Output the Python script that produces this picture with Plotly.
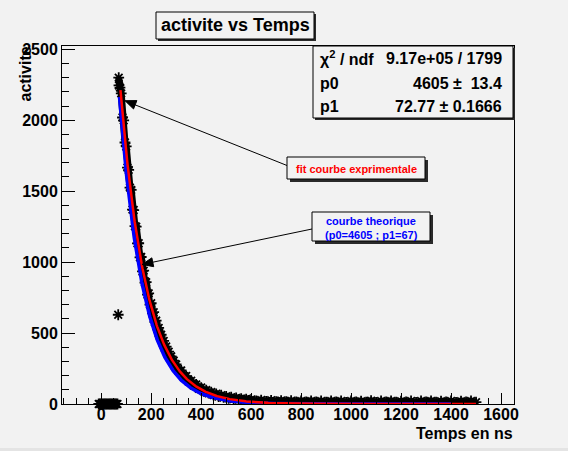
import numpy as np
import plotly.graph_objects as go

# ---------------------------------------------------------------- data
# measured activity before the source is switched on (flat at zero)
zero_x = [-10, -5, 0, 5, 10, 15, 20, 25, 30, 35, 40, 45, 50, 55, 60, 65]
zero_y = [0, 0, 0, 0, 0, 0, 0, 0, 0, 0, 0, 0, 0, 0, 0, 0]

# isolated point on the rising edge
edge_x = [68]
edge_y = [629]

# measured decay
decay_x = [70, 71, 75, 80, 85, 90, 95, 100, 105, 110, 115, 120, 125, 130, 135,
           140, 145, 150, 155, 160, 165, 170, 175, 180, 185, 190, 195, 200,
           205, 210, 215, 220, 225, 230, 235, 240, 245, 250, 255, 260, 265,
           270, 275, 280, 285, 290, 295, 300,
           310, 320, 330, 340, 350, 360, 370, 380, 390, 400, 410, 420, 430,
           440, 450, 460, 470, 480, 490, 500, 510, 520, 530, 540, 550, 560,
           570, 580, 590, 600,
           620, 640, 660, 680, 700, 720, 740, 760, 780, 800, 820, 840, 860,
           880, 900, 920, 940, 960, 980, 1000, 1020, 1040, 1060, 1080, 1100,
           1120, 1140, 1160, 1180, 1200, 1220, 1240, 1260, 1280, 1300, 1320,
           1340, 1360, 1380, 1400, 1420, 1440, 1460, 1480, 1500]
decay_y = [2300, 2245, 2230, 2189, 2019, 1999, 1843, 1815, 1666, 1650, 1525,
           1509, 1370, 1367, 1253, 1250, 1132, 1133, 1034, 1036, 934, 940,
           855, 859, 771, 780, 701, 710, 638, 647, 578, 588, 526, 536, 479,
           488, 433, 445, 395, 405, 357, 369, 325, 336, 295, 306, 268, 279,
           232, 236, 191, 197, 158, 164, 131, 138, 108, 116, 90, 98, 76, 84,
           63, 72, 53, 62, 46, 54, 40, 48, 35, 43, 31, 38, 28, 35, 25, 32,
           21, 28, 19, 26, 17, 24, 16, 23, 15, 22, 14, 22, 15, 21, 13, 22,
           14, 21, 12, 22, 14, 20, 13, 23, 12, 21, 14, 22, 13, 20, 15, 22, 12,
           21, 14, 22, 13, 20, 15, 22, 12, 20, 14, 21, 13]

# fit results (half-life model: p0 * 2^(-t/p1))
P0_FIT, P0_ERR = 4605, 13.4
P1_FIT, P1_ERR = 72.77, 0.1666
CHI2_NDF = "9.17e+05 / 1799"
FIT_RANGE = (77, 1500)

# theoretical curve
P0_TH, P1_TH = 4605, 67
TH_RANGE = (73, 1400)

x_ticks = [0, 200, 400, 600, 800, 1000, 1200, 1400, 1600]
y_ticks = [0, 500, 1000, 1500, 2000, 2500]

# ---------------------------------------------------------------- layout helpers
W, H = 568, 451
L, R, T, B = 62, 514, 46, 404
BG = "#f2f2f2"
FONT = "Liberation Sans, Arial, Helvetica, sans-serif"


def px(xp):
    return (xp - L) / (R - L)


def py(yp):
    return (B - yp) / (B - T)


fit_x = np.linspace(*FIT_RANGE, 600)
fit_y = P0_FIT * 2.0 ** (-fit_x / P1_FIT)
th_x = np.linspace(*TH_RANGE, 600)
th_y = P0_TH * 2.0 ** (-th_x / P1_TH)

star = dict(symbol="asterisk-open", size=9, color="black",
            line=dict(color="black", width=1.8))

fig = go.Figure()
fig.add_trace(go.Scatter(x=zero_x, y=zero_y, mode="markers", marker=star,
                         cliponaxis=False))
fig.add_trace(go.Scatter(x=edge_x, y=edge_y, mode="markers", marker=star))
fig.add_trace(go.Scatter(x=decay_x, y=decay_y, mode="lines+markers",
                         line=dict(color="black", width=7), marker=star))
fig.add_trace(go.Scatter(x=th_x, y=th_y, mode="lines",
                         line=dict(color="#0000ff", width=3.5)))
fig.add_trace(go.Scatter(x=fit_x, y=fit_y, mode="lines",
                         line=dict(color="#ff0000", width=2.5)))

shapes = []


def box(x0, y0, x1, y1, shadow=2, lw=1):
    shapes.append(dict(type="rect", xref="paper", yref="paper",
                       x0=px(x0 + shadow), x1=px(x1 + shadow),
                       y0=py(y1 + shadow), y1=py(y0 + shadow),
                       fillcolor="#2a2a2a", line=dict(width=0), layer="above"))
    shapes.append(dict(type="rect", xref="paper", yref="paper",
                       x0=px(x0), x1=px(x1), y0=py(y1), y1=py(y0),
                       fillcolor=BG, line=dict(color="black", width=lw),
                       layer="above"))


box(156, 12, 314, 39, shadow=2)           # title
box(313, 46, 513, 118, shadow=2)          # statistics
box(287, 157, 425, 179, shadow=3)         # fit label
box(312, 212, 430, 241, shadow=3)         # theory label

# bottom strip of the canvas
shapes.append(dict(type="rect", xref="paper", yref="paper",
                   x0=px(0), x1=px(W), y0=py(H), y1=py(448),
                   fillcolor="#e4e4e4", line=dict(width=0), layer="below"))

# pointer lines from the labels to the curves
for (x0, y0), (x1, y1) in [((287, 165.5), (131, 103.2)),
                           ((312, 229), (148, 263.2))]:
    shapes.append(dict(type="line", xref="paper", yref="paper",
                       x0=px(x0), y0=py(y0), x1=px(x1), y1=py(y1),
                       line=dict(color="black", width=1), layer="above"))

# filled arrow heads at the curve ends of the pointer lines
for (xt, yt), (xs, ys) in [((125, 100.7), (287, 165.5)),
                           ((142, 264.5), (312, 229))]:
    d = np.hypot(xs - xt, ys - yt)
    ux, uy = (xs - xt) / d, (ys - yt) / d
    bx, by = xt + 11 * ux, yt + 11 * uy
    p1 = (bx - 4.5 * uy, by + 4.5 * ux)
    p2 = (bx + 4.5 * uy, by - 4.5 * ux)
    path = (f"M {px(xt)} {py(yt)} L {px(p1[0])} {py(p1[1])} "
            f"L {px(p2[0])} {py(p2[1])} Z")
    shapes.append(dict(type="path", xref="paper", yref="paper", path=path,
                       fillcolor="black", line=dict(color="black", width=1),
                       layer="above"))

ann = []


def text(x, y, s, size, color="black", xanchor="center", angle=0,
         yanchor="middle"):
    ann.append(dict(xref="paper", yref="paper", x=px(x), y=py(y), text=s,
                    showarrow=False, xanchor=xanchor, yanchor=yanchor,
                    textangle=angle,
                    font=dict(family=FONT, size=size, color=color,
                              weight="bold")))


text(235, 25.5, "activite vs Temps", 18)
text(318, 58.5, "χ<sup>2</sup> / ndf", 16, xanchor="left")
text(504, 58.5, CHI2_NDF, 16, xanchor="right")
text(318, 83, "p0", 16, xanchor="left")
text(504, 83, f"{P0_FIT} ±\u00a0\u00a0{P0_ERR}", 16, xanchor="right")
text(318, 106.5, "p1", 16, xanchor="left")
text(504, 106.5, f"{P1_FIT} ± {P1_ERR}", 16, xanchor="right")
text(356, 169, "fit courbe exprimentale", 11, color="#ff0000")
text(371, 221, "courbe theorique", 11, color="#0000ff")
text(371, 234.5, f"(p0={P0_TH} ; p1={P1_TH})", 11, color="#0000ff")

# axis titles
text(515, 433, "Temps en ns", 16, xanchor="right")
text(25, 45, "activite", 16, angle=-90, yanchor="top")

axis_font = dict(family=FONT, size=16, color="black", weight="bold")

fig.update_layout(
    width=W, height=H,
    margin=dict(l=L, r=W - R, t=T, b=H - B, pad=0),
    paper_bgcolor=BG, plot_bgcolor=BG,
    showlegend=False,
    shapes=shapes, annotations=ann,
    xaxis=dict(range=[-157, 1652], tickvals=x_ticks,
               ticktext=[str(v) for v in x_ticks],
               ticks="inside", ticklen=11, tickwidth=1, tickcolor="black",
               ticklabelstandoff=-4,
               minor=dict(dtick=50, tick0=0, ticks="inside", ticklen=6,
                          tickcolor="black", tickwidth=1),
               showline=True, linecolor="black", linewidth=1, mirror=True,
               showgrid=False, zeroline=False, tickfont=axis_font),
    yaxis=dict(range=[0, 2523], tickvals=y_ticks,
               ticktext=[str(v) for v in y_ticks],
               ticks="inside", ticklen=13, tickwidth=1, tickcolor="black",
               minor=dict(dtick=100, tick0=0, ticks="inside", ticklen=7,
                          tickcolor="black", tickwidth=1),
               showline=True, linecolor="black", linewidth=1, mirror=True,
               showgrid=False, zeroline=False, tickfont=axis_font),
)

fig.write_html("out.html")
